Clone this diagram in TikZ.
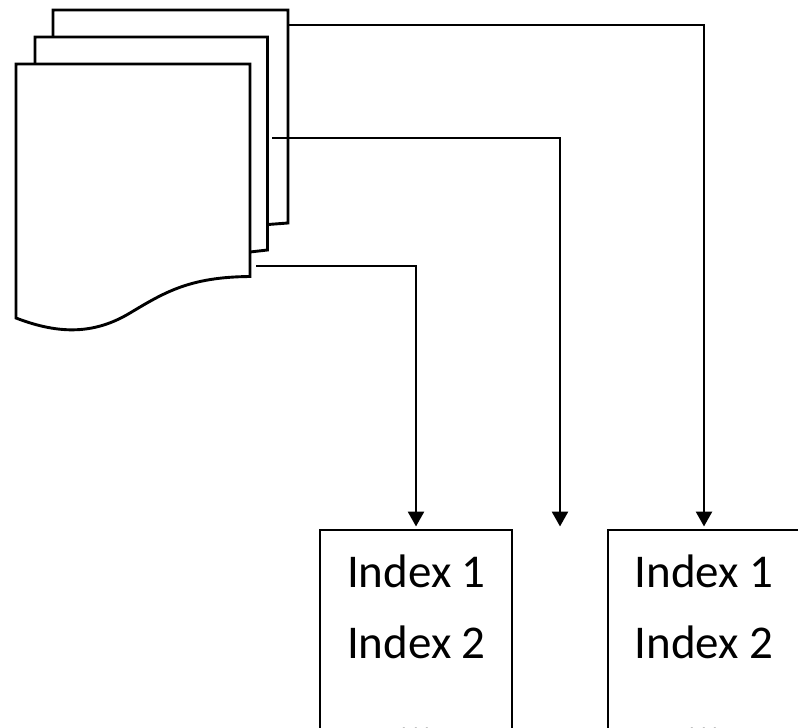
\documentclass[tikz,border=0pt]{standalone}
\usepackage{fontspec}
\setmainfont{Carlito}
\usetikzlibrary{arrows.meta}
\tikzset{
  page/.style={draw=black,line width=2.9pt,fill=white,line join=miter},
  boxline/.style={draw=black,line width=2.8pt},
  link/.style={draw=black,line width=2.7pt},
  linkarrow/.style={link,-{Triangle[length=15pt,width=16pt]}},
  idx/.style={font=\fontsize{47}{47}\selectfont,text=black,inner sep=0pt,anchor=base}
}
\begin{document}
\begin{tikzpicture}[x=1pt,y=-1pt]
\useasboundingbox (0,0) rectangle (798,728);
\clip (0,0) rectangle (798,728);
% connector free ends
\coordinate (s3) at (288,25);
\coordinate (c3) at (704,25);
\coordinate (e3) at (704,526.5);
\coordinate (s2) at (272,138);
\coordinate (c2) at (560,138);
\coordinate (e2) at (560,526.5);
\coordinate (s1) at (256,266);
\coordinate (c1) at (416,266);
\coordinate (e1) at (416,526.5);
% back pages
\path[page] (53,37) -- (53,10) -- (288,10) -- (288,223) -- (268,224.5);
\path[page] (35,64) -- (35,37) -- (267.5,37) -- (267.5,250) -- (250,252);
\path[page] (16,64) -- (250,64) -- (250,276.5)
  .. controls (190,277) and (165,292) .. (130,313)
  .. controls (95,334) and (60,335) .. (16,318) -- cycle;
% connectors
\draw[linkarrow] (s3) -- (c3) -- (e3);
\draw[linkarrow] (s2) -- (c2) -- (e2);
\draw[linkarrow] (s1) -- (c1) -- (e1);
% boxes
\coordinate (b1tl) at (320,530);
\coordinate (b1tr) at (512,530);
\coordinate (b2tl) at (608,530);
\coordinate (b2tr) at (800,530);
\draw[boxline] (320,740) -- (b1tl) -- (b1tr) -- (512,740);
\draw[boxline] (608,740) -- (b2tl) -- (b2tr) -- (800,740);
% labels
\node[idx] (a1) at (416.5,587) {Index 1};
\node[idx] (a2) at (416.5,658) {Index 2};
\node[idx] (a3) at (416,733) {...};
\node[idx] (b1) at (704,587) {Index 1};
\node[idx] (b2) at (704,658) {Index 2};
\node[idx] (b3) at (704,733) {...};
\end{tikzpicture}
\end{document}
